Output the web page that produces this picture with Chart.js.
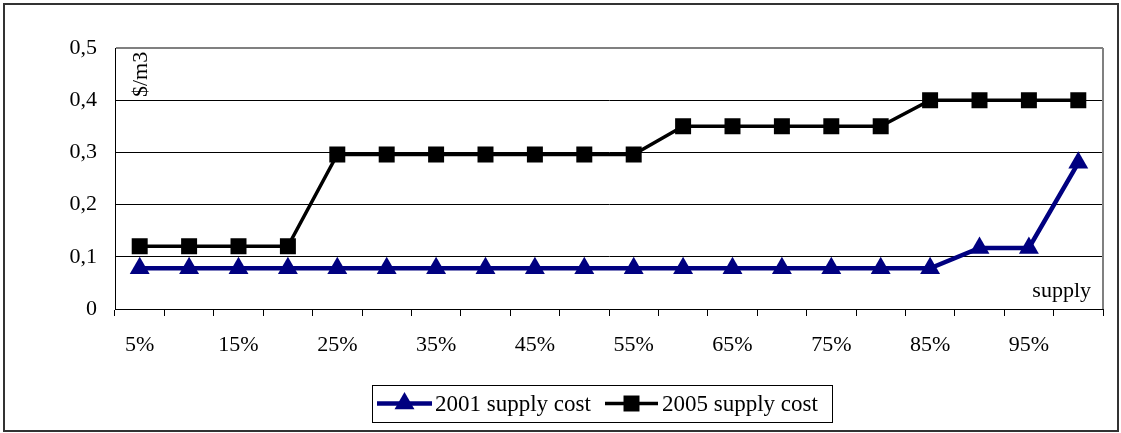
<!DOCTYPE html>
<html>
<head>
<meta charset="utf-8">
<script src="https://cdn.jsdelivr.net/npm/chart.js@4/dist/chart.umd.min.js"></script>
<style>
  html, body { margin: 0; padding: 0; background: #fff; }
  #wrap { width: 1121px; height: 433px; position: relative; }
</style>
</head>
<body>
<div id="wrap"><canvas id="c"></canvas></div>
<script>
// Share of supply (x) and unit supply cost in $/m3 (y)
const supplyShares = ['5%', '10%', '15%', '20%', '25%', '30%', '35%', '40%', '45%', '50%',
                      '55%', '60%', '65%', '70%', '75%', '80%', '85%', '90%', '95%', '100%'];
const cost2001 = [0.078, 0.078, 0.078, 0.078, 0.078, 0.078, 0.078, 0.078, 0.078, 0.078,
                  0.078, 0.078, 0.078, 0.078, 0.078, 0.078, 0.078, 0.117, 0.117, 0.28];
const cost2005 = [0.12, 0.12, 0.12, 0.12, 0.296, 0.296, 0.296, 0.296, 0.296, 0.296,
                  0.296, 0.35, 0.35, 0.35, 0.35, 0.35, 0.4, 0.4, 0.4, 0.4];
const seriesNames = ['2001 supply cost', '2005 supply cost'];
const yTicks = [0, 0.1, 0.2, 0.3, 0.4, 0.5];
const yUnit = '$/m3';
const xUnit = 'supply';

const FONT = '"Liberation Serif", "Times New Roman", serif';
const NAVY = '#000080';

function fmtComma(v) {
  return v === 0 ? '0' : v.toFixed(1).replace('.', ',');
}

// White page, outer frame, in-plot unit labels and the framed legend
const decorations = {
  id: 'decorations',
  beforeDraw(chart) {
    const ctx = chart.ctx;
    ctx.save();
    ctx.fillStyle = '#fff';
    ctx.fillRect(0, 0, chart.width, chart.height);
    ctx.strokeStyle = '#333';
    ctx.lineWidth = 2;
    ctx.strokeRect(4, 4, chart.width - 7, chart.height - 6);
    ctx.restore();
  },
  afterDatasetsDraw(chart) {
    const ctx = chart.ctx;
    const a = chart.chartArea;
    ctx.save();
    // right edge of the plot frame
    ctx.strokeStyle = '#808080';
    ctx.lineWidth = 2;
    ctx.beginPath();
    ctx.moveTo(a.right, a.top);
    ctx.lineTo(a.right, a.bottom);
    ctx.stroke();

    ctx.fillStyle = '#000';
    ctx.font = '22px ' + FONT;
    // unit on the value axis, written upward
    ctx.save();
    ctx.translate(a.left + 26, a.top + 49);
    ctx.rotate(-Math.PI / 2);
    ctx.textAlign = 'left';
    ctx.textBaseline = 'middle';
    ctx.fillText(yUnit, 0, 0);
    ctx.restore();
    // unit on the category axis
    ctx.textAlign = 'right';
    ctx.textBaseline = 'alphabetic';
    ctx.fillText(xUnit, a.right - 12, a.bottom - 12);

    // legend
    const box = { x: 372.5, y: 385.5, w: 460, h: 37 };
    ctx.strokeStyle = '#000';
    ctx.lineWidth = 1;
    ctx.strokeRect(box.x, box.y, box.w, box.h);
    const midY = box.y + 18;
    const items = [
      { x0: 377, x1: 432, tx: 435, ds: chart.data.datasets[0] },
      { x0: 605, x1: 658, tx: 662, ds: chart.data.datasets[1] }
    ];
    ctx.font = '23px ' + FONT;
    ctx.textAlign = 'left';
    ctx.textBaseline = 'middle';
    items.forEach(it => {
      ctx.strokeStyle = it.ds.borderColor;
      ctx.lineWidth = it.ds.borderWidth;
      ctx.beginPath();
      ctx.moveTo(it.x0, midY);
      ctx.lineTo(it.x1, midY);
      ctx.stroke();
      const cx = (it.x0 + it.x1) / 2;
      ctx.fillStyle = it.ds.pointBackgroundColor;
      ctx.beginPath();
      if (it.ds.pointStyle === 'triangle') {
        const r = it.ds.pointRadius;
        ctx.moveTo(cx, midY - r);
        ctx.lineTo(cx + r * Math.sqrt(3) / 2, midY + r / 2);
        ctx.lineTo(cx - r * Math.sqrt(3) / 2, midY + r / 2);
        ctx.closePath();
      } else {
        const s = it.ds.pointRadius * Math.SQRT1_2;
        ctx.rect(cx - s, midY - s, 2 * s, 2 * s);
      }
      ctx.fill();
      ctx.fillStyle = '#000';
      ctx.fillText(it.ds.label, it.tx, midY + 1);
    });
    ctx.restore();
  }
};

new Chart(document.getElementById('c'), {
  type: 'line',
  data: {
    labels: supplyShares,
    datasets: [
      {
        label: seriesNames[0],
        data: cost2001,
        borderColor: NAVY,
        backgroundColor: NAVY,
        pointBackgroundColor: NAVY,
        pointBorderColor: NAVY,
        pointBorderWidth: 0,
        borderWidth: 4.5,
        pointStyle: 'triangle',
        pointRadius: 11.5,
        pointHoverRadius: 11.5,
        tension: 0
      },
      {
        label: seriesNames[1],
        data: cost2005,
        borderColor: '#000',
        backgroundColor: '#000',
        pointBackgroundColor: '#000',
        pointBorderColor: '#000',
        pointBorderWidth: 0,
        borderWidth: 3.5,
        pointStyle: 'rect',
        pointRadius: 11.3,
        pointHoverRadius: 11.3,
        tension: 0
      }
    ]
  },
  options: {
    responsive: true,
    maintainAspectRatio: false,
    animation: false,
    events: [],
    layout: { padding: { left: 0, top: 48, right: 18, bottom: 80 } },
    plugins: {
      legend: { display: false },
      tooltip: { enabled: false },
      title: { display: false }
    },
    scales: {
      x: {
        type: 'category',
        offset: true,
        grid: {
          display: true,
          offset: true,
          drawOnChartArea: false,
          drawTicks: true,
          tickLength: 7,
          color: '#000',
          lineWidth: 1
        },
        border: { display: true, color: '#000', width: 1 },
        ticks: {
          autoSkip: false,
          maxRotation: 0,
          minRotation: 0,
          padding: 16,
          color: '#000',
          font: { family: FONT, size: 22 },
          callback(value, index) {
            return index % 2 === 0 ? this.getLabelForValue(value) : '';
          }
        },
        afterFit(scale) { scale.height = 44; }
      },
      y: {
        min: yTicks[0],
        max: yTicks[yTicks.length - 1],
        afterBuildTicks(scale) {
          scale.ticks = yTicks.map(v => ({ value: v }));
        },
        grid: {
          drawTicks: false,
          color: (c) => (c.tick && Math.abs(c.tick.value - 0.5) < 1e-9) ? '#808080' : '#000',
          lineWidth: (c) => (c.tick && Math.abs(c.tick.value - 0.5) < 1e-9) ? 2 : 1
        },
        border: { display: true, color: '#000', width: 1 },
        ticks: {
          padding: 18,
          color: '#000',
          font: { family: FONT, size: 22 },
          callback: (v) => fmtComma(v)
        },
        afterFit(scale) { scale.width = 115; }
      }
    }
  },
  plugins: [decorations]
});
</script>
</body>
</html>
